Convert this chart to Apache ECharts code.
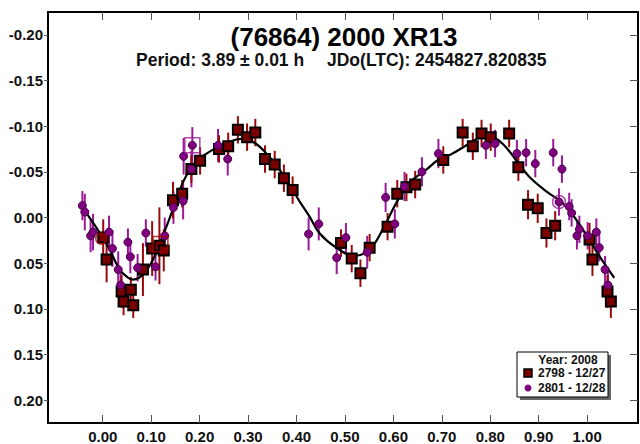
<!DOCTYPE html>
<html><head><meta charset="utf-8">
<script src="https://cdn.jsdelivr.net/npm/echarts@6/dist/echarts.min.js"></script>
<style>html,body{margin:0;padding:0;background:#fff}#c{width:640px;height:444px}</style>
</head><body><div id="c"></div>
<script>
const titleText = '(76864) 2000 XR13';
const periodText = 'Period: 3.89 \u00b1 0.01 h';
const jdText = 'JDo(LTC): 2454827.820835';
const legendTitle = 'Year: 2008';
const seriesNames = ['2798 - 12/27', '2801 - 12/28'];
const xTicks = [0, 0.1, 0.2, 0.3, 0.4, 0.5, 0.6, 0.7, 0.8, 0.9, 1.0];
const yTicks = [-0.2, -0.15, -0.1, -0.05, 0, 0.05, 0.1, 0.15, 0.2];

// Session 2798 - 12/27 (squares)
const s2798X = [0.001, 0.008, 0.039, 0.043, 0.058, 0.063, 0.083, 0.102, 0.117, 0.126, 0.145, 0.164, 0.183, 0.201, 0.240, 0.259, 0.279, 0.298, 0.315, 0.335, 0.355, 0.374, 0.392, 0.492, 0.514, 0.532, 0.551, 0.588, 0.608, 0.627, 0.645, 0.703, 0.743, 0.764, 0.782, 0.801, 0.839, 0.858, 0.878, 0.898, 0.916, 0.934, 1.005, 1.011, 1.042, 1.049];
const s2798Y = [0.022, 0.046, 0.081, 0.092, 0.079, 0.096, 0.057, 0.034, 0.031, 0.036, -0.019, -0.026, -0.053, -0.062, -0.075, -0.078, -0.096, -0.088, -0.093, -0.064, -0.058, -0.043, -0.030, 0.028, 0.045, 0.061, 0.033, 0.010, -0.026, -0.033, -0.036, -0.063, -0.093, -0.078, -0.092, -0.088, -0.092, -0.055, -0.014, -0.010, 0.017, 0.009, 0.024, 0.046, 0.081, 0.092];
const s2798Err = [0.02, 0.025, 0.018, 0.015, 0.014, 0.014, 0.029, 0.03, 0.042, 0.023, 0.02, 0.015, 0.015, 0.015, 0.015, 0.015, 0.015, 0.015, 0.015, 0.015, 0.015, 0.015, 0.015, 0.015, 0.015, 0.015, 0.015, 0.015, 0.015, 0.015, 0.015, 0.015, 0.015, 0.015, 0.015, 0.015, 0.015, 0.015, 0.016, 0.016, 0.016, 0.016, 0.018, 0.018, 0.018, 0.018];

// Session 2801 - 12/28 (circles)
const s2801X = [-0.042, -0.037, -0.025, -0.020, 0.013, 0.020, 0.032, 0.037, 0.052, 0.057, 0.072, 0.089, 0.109, 0.128, 0.146, 0.166, 0.167, 0.183, 0.185, 0.238, 0.258, 0.425, 0.446, 0.483, 0.502, 0.546, 0.584, 0.603, 0.623, 0.659, 0.693, 0.791, 0.810, 0.855, 0.874, 0.893, 0.930, 0.948, 0.942, 0.963, 0.968, 0.979, 0.984, 1.001, 1.019, 1.025, 1.037, 1.043];
const s2801Y = [-0.013, -0.006, 0.020, 0.016, 0.016, 0.034, 0.057, 0.074, 0.027, 0.043, 0.055, 0.017, 0.054, 0.020, -0.011, -0.018, -0.067, -0.053, -0.079, -0.079, -0.064, 0.018, 0.007, 0.044, 0.022, 0.038, -0.022, 0.007, -0.034, -0.050, -0.070, -0.079, -0.081, -0.070, -0.071, -0.059, -0.071, -0.053, -0.017, -0.012, -0.005, 0.020, 0.013, 0.020, 0.016, 0.033, 0.057, 0.074];
const s2801Err = [0.016, 0.02, 0.018, 0.02, 0.018, 0.02, 0.02, 0.015, 0.015, 0.018, 0.015, 0.015, 0.015, 0.02, 0.018, 0.02, 0.02, 0.02, 0.02, 0.018, 0.018, 0.018, 0.018, 0.018, 0.016, 0.018, 0.016, 0.016, 0.016, 0.016, 0.016, 0.015, 0.015, 0.015, 0.015, 0.015, 0.015, 0.015, 0.015, 0.015, 0.015, 0.015, 0.015, 0.015, 0.015, 0.015, 0.015, 0.015];

// Fourier fit curve
const fitX = [-0.045, -0.03, -0.006, 0.014, 0.035, 0.05, 0.062, 0.075, 0.09, 0.104, 0.121, 0.138, 0.166, 0.193, 0.227, 0.262, 0.286, 0.31, 0.338, 0.372, 0.406, 0.427, 0.447, 0.482, 0.52, 0.551, 0.578, 0.606, 0.633, 0.667, 0.695, 0.715, 0.757, 0.777, 0.801, 0.825, 0.853, 0.88, 0.915, 0.949, 0.977, 1.004, 1.025, 1.056];
const fitY = [-0.013, -0.002, 0.017, 0.035, 0.057, 0.065, 0.068, 0.066, 0.058, 0.046, 0.024, 0.001, -0.039, -0.061, -0.074, -0.083, -0.086, -0.083, -0.070, -0.047, -0.018, -0.001, 0.017, 0.033, 0.042, 0.035, 0.013, -0.016, -0.038, -0.052, -0.064, -0.068, -0.081, -0.087, -0.088, -0.081, -0.063, -0.045, -0.029, -0.016, 0.002, 0.024, 0.042, 0.066];

// highlighted (first) observations
const markRedCircle = [-0.003, 0.023];
const markRedSquare = [0.119, 0.029];
const markPurpleSquare = [0.185, -0.079];
const markPurpleCircle = [0.942, -0.017];

const FONT = '"Liberation Sans", Arial, sans-serif';
const RED = '#7a0000', RED_BAR = '#9a0a0a';
const PUR = '#800080', PUR_BAR = '#9a1a9a';

function zip3(a, b, c) { return a.map((v, i) => [v, b[i], c[i]]); }
function zip2(a, b) { return a.map((v, i) => [v, b[i]]); }
function errRender(color) {
  return function (params, api) {
    const x = api.value(0), y = api.value(1), e = api.value(2);
    const p1 = api.coord([x, y - e]), p2 = api.coord([x, y + e]);
    return { type: 'line', shape: { x1: p1[0], y1: p1[1], x2: p2[0], y2: p2[1] }, style: { stroke: color, lineWidth: 2 } };
  };
}

const chart = echarts.init(document.getElementById('c'), null, { renderer: 'svg' });
const GL = 48, GT = 12, GR = 2, GB = 19;
chart.setOption({
  animation: false,
  backgroundColor: '#fff',
  grid: { left: GL, top: GT, right: GR, bottom: GB, containLabel: false },
  xAxis: [{
    type: 'value', min: -0.113, max: 1.105, position: 'bottom',
    axisLine: { show: true, onZero: false, lineStyle: { color: '#000', width: 2 } },
    axisTick: { show: true, inside: true, length: 8, customValues: xTicks, lineStyle: { color: '#555', width: 1 } },
    axisLabel: { customValues: xTicks, formatter: v => v.toFixed(2), color: '#111', fontFamily: FONT, fontWeight: 'bold', fontSize: 15, margin: 6 },
    splitLine: { show: false }
  }, {
    type: 'value', min: -0.113, max: 1.105, position: 'top',
    axisLine: { show: true, onZero: false, lineStyle: { color: '#000', width: 2 } },
    axisTick: { show: true, inside: true, length: 8, customValues: xTicks, lineStyle: { color: '#555', width: 1 } },
    axisLabel: { show: false }, splitLine: { show: false }
  }],
  yAxis: [{
    type: 'value', min: -0.225, max: 0.225, inverse: true, position: 'left',
    axisLine: { show: true, onZero: false, lineStyle: { color: '#000', width: 2 } },
    axisTick: { show: true, inside: false, length: 4, customValues: yTicks, lineStyle: { color: '#555', width: 1 } },
    axisLabel: { customValues: yTicks, formatter: v => v.toFixed(2), color: '#111', fontFamily: FONT, fontWeight: 'bold', fontSize: 15, margin: 5 },
    splitLine: { show: false }
  }, {
    type: 'value', min: -0.225, max: 0.225, inverse: true, position: 'right',
    axisLine: { show: true, onZero: false, lineStyle: { color: '#000', width: 2 } },
    axisTick: { show: true, inside: true, length: 8, customValues: yTicks, lineStyle: { color: '#555', width: 1 } },
    axisLabel: { show: false }, splitLine: { show: false }
  }],
  series: [
    { type: 'custom', name: 'err2801', renderItem: errRender(PUR_BAR), data: zip3(s2801X, s2801Y, s2801Err), encode: { x: 0, y: 1 }, z: 2, silent: true },
    { type: 'custom', name: 'err2798', renderItem: errRender(RED_BAR), data: zip3(s2798X, s2798Y, s2798Err), encode: { x: 0, y: 1 }, z: 2, silent: true },
    { type: 'line', name: 'fit', data: zip2(fitX, fitY), smooth: 0.4, symbol: 'none', lineStyle: { color: '#000', width: 2.2 }, z: 3 },
    { type: 'scatter', name: seriesNames[0], data: zip2(s2798X, s2798Y), symbol: 'rect', symbolSize: 10,
      itemStyle: { color: RED, borderColor: '#000', borderWidth: 2, opacity: 1 }, z: 4 },
    { type: 'scatter', name: seriesNames[1], data: zip2(s2801X, s2801Y), symbol: 'circle', symbolSize: 8,
      itemStyle: { color: PUR, borderColor: '#4a004a', borderWidth: 1, opacity: 1 }, z: 5 },
    { type: 'scatter', name: 'mk1', data: [markRedCircle], symbol: 'circle', symbolSize: 11, itemStyle: { color: 'none', borderColor: '#a00000', borderWidth: 1.5 }, z: 6 },
    { type: 'scatter', name: 'mk2', data: [markRedSquare], symbol: 'rect', symbolSize: 15, itemStyle: { color: 'none', borderColor: '#a00000', borderWidth: 1.5 }, z: 6 },
    { type: 'scatter', name: 'mk3', data: [markPurpleSquare], symbol: 'rect', symbolSize: 15, itemStyle: { color: 'none', borderColor: '#9a1a9a', borderWidth: 1.5 }, z: 6 },
    { type: 'scatter', name: 'mk4', data: [markPurpleCircle], symbol: 'circle', symbolSize: 13, itemStyle: { color: 'none', borderColor: '#9a1a9a', borderWidth: 1.5 }, z: 6 }
  ],
  graphic: [
    { type: 'text', x: 344, y: 37, z: 10, style: { text: titleText, fill: '#000', font: 'bold 26px ' + FONT, textAlign: 'center', textVerticalAlign: 'middle' } },
    { type: 'text', x: 136, y: 59.5, z: 10, style: { text: periodText, fill: '#111', font: 'bold 17.5px ' + FONT, textAlign: 'left', textVerticalAlign: 'middle' } },
    { type: 'text', x: 327, y: 59.5, z: 10, style: { text: jdText, fill: '#111', font: 'bold 17.5px ' + FONT, textAlign: 'left', textVerticalAlign: 'middle' } },
    { type: 'rect', shape: { x: 520, y: 355, width: 91, height: 45 }, style: { fill: '#666' }, z: 20 },
    { type: 'rect', shape: { x: 517, y: 352, width: 91, height: 45 }, style: { fill: '#fff', stroke: '#000', lineWidth: 1 }, z: 21 },
    { type: 'text', x: 568, y: 360, z: 22, style: { text: legendTitle, fill: '#111', font: 'bold 12px ' + FONT, textAlign: 'center', textVerticalAlign: 'middle' } },
    { type: 'rect', shape: { x: 524, y: 369, width: 8, height: 8 }, style: { fill: RED, stroke: '#000', lineWidth: 1.5 }, z: 22 },
    { type: 'text', x: 538, y: 373, z: 22, style: { text: seriesNames[0], fill: '#111', font: 'bold 12px ' + FONT, textAlign: 'left', textVerticalAlign: 'middle' } },
    { type: 'circle', shape: { cx: 528, cy: 388, r: 3.5 }, style: { fill: PUR }, z: 22 },
    { type: 'text', x: 538, y: 388, z: 22, style: { text: seriesNames[1], fill: '#111', font: 'bold 12px ' + FONT, textAlign: 'left', textVerticalAlign: 'middle' } }
  ]
});
</script></body></html>
